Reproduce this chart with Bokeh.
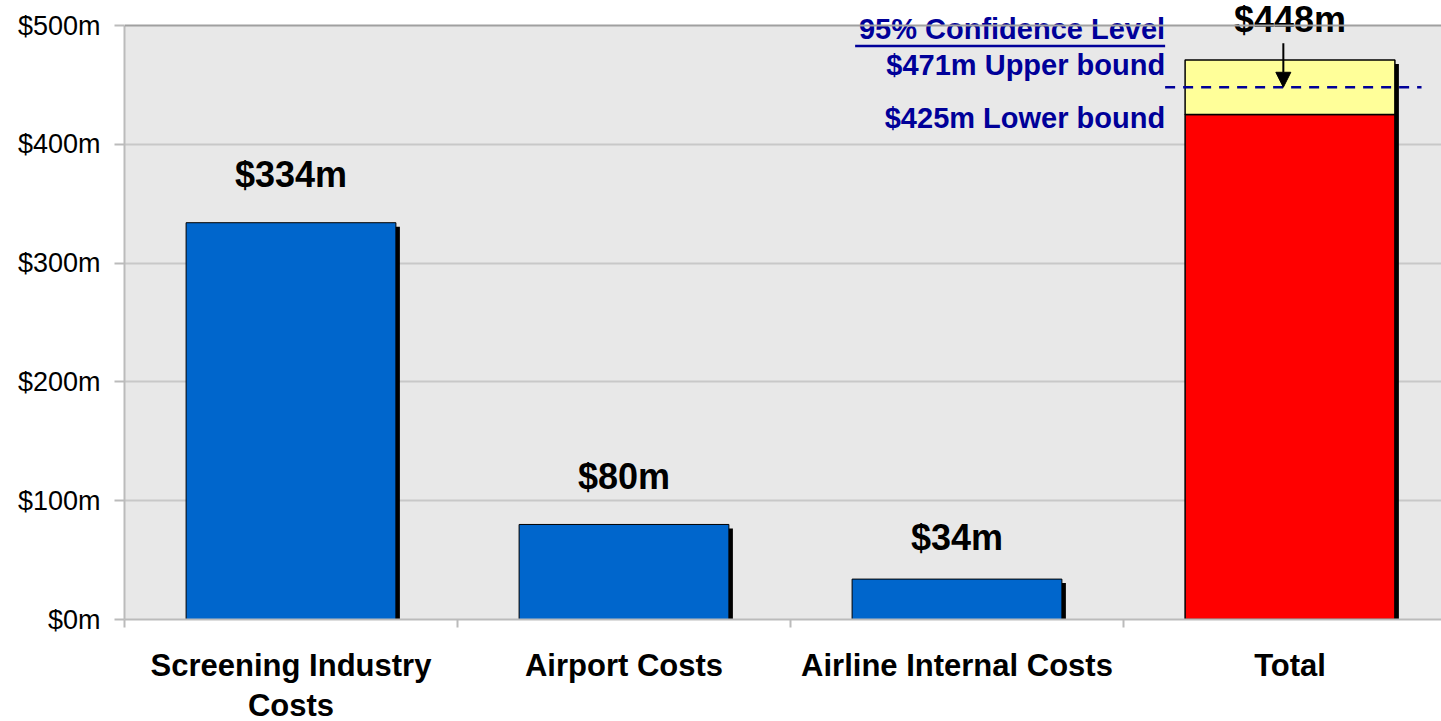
from bokeh.plotting import figure
from bokeh.models import FixedTicker, Range1d, Span, Arrow, NormalHead, Label, BoxAnnotation
from bokeh.embed import file_html
from bokeh.resources import INLINE

categories = ["Screening Industry\nCosts", "Airport Costs", "Airline Internal Costs", "Total"]
costs = [334, 80, 34, 448]
value_labels = ["$334m", "$80m", "$34m", "$448m"]
lower_bound = 425
upper_bound = 471
point_estimate = 448
y_ticks = [0, 100, 200, 300, 400, 500]
y_tick_labels = ["$0m", "$100m", "$200m", "$300m", "$400m", "$500m"]
conf_title = "95% Confidence Level"
upper_text = "$471m Upper bound"
lower_text = "$425m Lower bound"

FONT = "Liberation Sans"
NAVY = "#000099"
BLUE = "#0066CC"
PX_X = 333.0          # pixels per category
PX_Y = 594.0 / 500.0  # pixels per $m
BAR_W = 0.63
TOP_PAD = 25          # white space above the plot area, px
Y_MAX = y_ticks[-1]

p = figure(frame_width=1317, frame_height=594 + TOP_PAD, min_border_left=124, min_border_top=0,
           min_border_right=0, min_border_bottom=10,
           x_range=Range1d(0, 1317 / PX_X), y_range=Range1d(0, Y_MAX + TOP_PAD / PX_Y),
           output_backend="svg", toolbar_location=None)
p.background_fill_color = "white"
p.border_fill_color = "white"
p.outline_line_color = None

# grey plot area
p.add_layout(BoxAnnotation(bottom=0, top=Y_MAX, fill_color="#E8E8E8", fill_alpha=1,
                           line_color=None, level="image"))

xs = [i + 0.5 for i in range(len(categories))]
n_blue = 3
dx = 4 / PX_X
dy = 4 / PX_Y

# shadows
shadow_tops = costs[:n_blue] + [upper_bound]
p.quad(left=[x - BAR_W / 2 + dx for x in xs], right=[x + BAR_W / 2 + dx for x in xs],
       bottom=[-dy] * len(xs), top=[t - dy for t in shadow_tops],
       fill_color="black", line_color=None)

# blue bars
p.quad(left=[x - BAR_W / 2 for x in xs[:n_blue]], right=[x + BAR_W / 2 for x in xs[:n_blue]],
       bottom=[0] * n_blue, top=costs[:n_blue], fill_color=BLUE, line_color="black", line_width=1)
# total bar: red up to lower bound, yellow to upper bound
xt = xs[3]
p.quad(left=[xt - BAR_W / 2], right=[xt + BAR_W / 2], bottom=[0], top=[lower_bound],
       fill_color="#FF0000", line_color="black", line_width=1.5)
p.quad(left=[xt - BAR_W / 2], right=[xt + BAR_W / 2], bottom=[lower_bound], top=[upper_bound],
       fill_color="#FFFF99", line_color="black", line_width=1.5)

# value labels
label_y = costs[:n_blue] + [upper_bound]
offsets = [48, 48, 42, 40]
for x, y, t, off in zip(xs, label_y, value_labels, offsets):
    p.add_layout(Label(x=x, y=y, text=t, text_align="center", text_baseline="middle",
                       y_offset=off, text_font=FONT, text_font_style="bold",
                       text_font_size="36px", text_color="black"))

# dashed estimate line
p.line(x=[xt - BAR_W / 2 - 0.06, xt + BAR_W / 2 + 0.08], y=[point_estimate, point_estimate],
       line_color=NAVY, line_width=2.5, line_dash="10 8")

# arrow
p.add_layout(Arrow(end=NormalHead(size=15, fill_color="black", line_color="black"),
                   x_start=xt - 0.02, y_start=point_estimate + 37, x_end=xt - 0.02, y_end=point_estimate,
                   line_color="black", line_width=2))

# confidence texts
tx = xt - BAR_W / 2 - 0.06
for y, t, off in [(upper_bound, upper_text, -5), (lower_bound, lower_text, -3),
                  (upper_bound, conf_title, 31)]:
    p.add_layout(Label(x=tx, y=y, text=t, text_align="right", text_baseline="middle",
                       y_offset=off, text_font=FONT, text_font_style="bold",
                       text_font_size="29px", text_color=NAVY))
ul_y = upper_bound + 14 / PX_Y
p.line(x=[tx - 310 / PX_X, tx], y=[ul_y, ul_y], line_color=NAVY, line_width=2.5)

# top border
p.add_layout(Span(location=Y_MAX, dimension="width", line_color="#A0A0A0", line_width=2))

# axes
p.yaxis.ticker = FixedTicker(ticks=y_ticks)
p.yaxis.bounds = (0, Y_MAX)
p.yaxis.major_label_overrides = {t: l for t, l in zip(y_ticks, y_tick_labels)}
p.yaxis.major_label_text_font = FONT
p.yaxis.major_label_text_font_size = "27px"
p.yaxis.major_label_text_color = "black"
p.yaxis.major_tick_out = 10
p.yaxis.major_tick_in = 0
p.yaxis.minor_tick_line_color = None
p.yaxis.major_tick_line_color = "#BBBBBB"
p.yaxis.major_tick_line_width = 2
p.yaxis.axis_line_color = "#BBBBBB"
p.yaxis.axis_line_width = 2
p.yaxis.major_label_standoff = 14

p.xaxis.ticker = FixedTicker(ticks=xs, minor_ticks=[0, 1, 2, 3, 4])
p.xaxis.major_label_overrides = {x: c for x, c in zip(xs, categories)}
p.xaxis.major_label_text_font = FONT
p.xaxis.major_label_text_font_style = "bold"
p.xaxis.major_label_text_font_size = "31px"
p.xaxis.major_label_text_color = "black"
p.xaxis.major_label_text_line_height = 1.15
p.xaxis.major_tick_line_color = None
p.xaxis.major_tick_out = 0
p.xaxis.major_tick_in = 0
p.xaxis.minor_tick_line_color = "#BBBBBB"
p.xaxis.minor_tick_line_width = 2
p.xaxis.minor_tick_out = 8
p.xaxis.minor_tick_in = 0
p.xaxis.axis_line_color = "#BBBBBB"
p.xaxis.axis_line_width = 2
p.xaxis.major_label_standoff = 20

p.xgrid.grid_line_color = None
p.ygrid.ticker = FixedTicker(ticks=y_ticks[:-1])
p.ygrid.grid_line_color = "#C8C8C8"
p.ygrid.grid_line_width = 2

open("out.html", "w").write(file_html(p, INLINE))
